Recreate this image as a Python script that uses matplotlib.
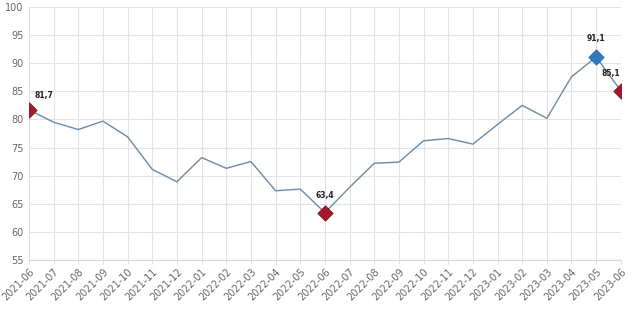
import matplotlib
matplotlib.use('Agg')
import matplotlib.pyplot as plt

# Monthly index values
months = ['2021-06', '2021-07', '2021-08', '2021-09', '2021-10', '2021-11', '2021-12',
          '2022-01', '2022-02', '2022-03', '2022-04', '2022-05', '2022-06', '2022-07',
          '2022-08', '2022-09', '2022-10', '2022-11', '2022-12', '2023-01', '2023-02',
          '2023-03', '2023-04', '2023-05', '2023-06']
values = [81.7, 79.5, 78.2, 79.7, 76.9, 71.1, 68.9,
          73.2, 71.3, 72.5, 67.3, 67.6, 63.4, 67.9,
          72.2, 72.4, 76.2, 76.6, 75.6, 79.1, 82.5,
          80.2, 87.6, 91.1, 85.1]
yticks = [55, 60, 65, 70, 75, 80, 85, 90, 95, 100]

# Highlighted points (indices)
red_points = [0, 12, 24]
blue_points = [23]

line_color = '#6a8aa6'
red_color = '#a5182a'
blue_color = '#2f7cbd'
grid_color = '#e3e3e3'
text_color = '#666666'

fig = plt.figure(figsize=(6.44, 3.22), dpi=100)
ax = fig.add_axes([0.045, 0.193, 0.919, 0.785])

x = list(range(len(months)))
ax.plot(x, values, color=line_color, linewidth=1.0, zorder=2)

ax.scatter([x[i] for i in red_points], [values[i] for i in red_points],
           marker='D', s=60, color=red_color, edgecolors='#7a1020', linewidths=0.6, zorder=3)
ax.scatter([x[i] for i in blue_points], [values[i] for i in blue_points],
           marker='D', s=60, color=blue_color, edgecolors='#25679e', linewidths=0.6, zorder=3)

# Value labels
label_offsets = {0: (11, 7), 12: (0, 9), 23: (0, 10), 24: (-7, 9)}
for i, (dx, dy) in label_offsets.items():
    ax.annotate(f'{values[i]:.1f}'.replace('.', ','), (x[i], values[i]),
                xytext=(dx, dy), textcoords='offset points', ha='center', va='bottom',
                fontsize=5.5, fontweight='bold', color='#222222', zorder=4)

ax.set_xlim(0, len(months) - 1)
ax.set_ylim(55, 100)
ax.set_yticks(yticks)
ax.set_xticks(x)
ax.set_xticklabels(months, rotation=45, ha='right', rotation_mode='anchor')

ax.grid(True, color=grid_color, linewidth=0.8)
ax.set_axisbelow(True)
ax.tick_params(axis='both', colors=text_color, labelsize=7, length=3, width=0.8)
ax.tick_params(axis='y', length=0, pad=4)
ax.tick_params(axis='x', color=grid_color, pad=2)
for name, spine in ax.spines.items():
    spine.set_visible(False)
ax.spines['bottom'].set_visible(True)
ax.spines['bottom'].set_color('#d8d8d8')
ax.spines['left'].set_visible(True)
ax.spines['left'].set_color('#e0e0e0')

fig.savefig('out.png', dpi=100, facecolor='white')
